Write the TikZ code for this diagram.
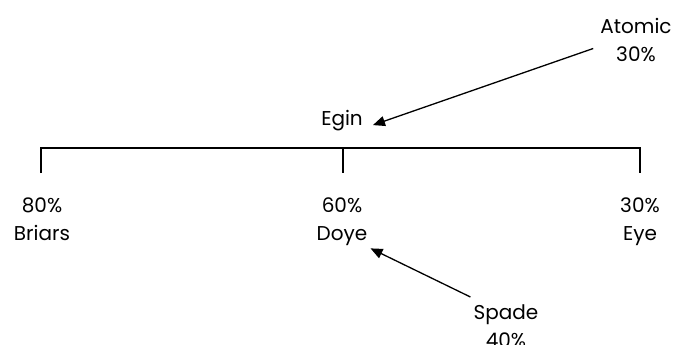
\documentclass[tikz,border=0pt]{standalone}
\usepackage{fontspec}
\setmainfont{Poppins}
\usetikzlibrary{arrows.meta}
\begin{document}
\begin{tikzpicture}[x=1pt,y=-1pt,
  lbl/.style={align=center,inner sep=0pt,font=\fontsize{20}{28}\selectfont},
  arr/.style={line width=1.3pt,-{Triangle[length=12pt,width=10pt]}},
  bar/.style={line width=1.2pt}]
\useasboundingbox (0,0) rectangle (675,345);
\node[lbl,anchor=base] (atomic) at (636,62) {Atomic\\30\%};
\node[lbl,anchor=base] (egin) at (342,125) {Egin};
\node[lbl,anchor=base] (briars) at (42,240) {80\%\\Briars};
\node[lbl,anchor=base] (doye) at (342,240) {60\%\\Doye};
\node[lbl,anchor=base] (eye) at (640,240) {30\%\\Eye};
\node[lbl,anchor=base] (spade) at (506,347) {Spade\\40\%};
\coordinate (barl) at (41,148);
\coordinate (barr) at (640,148);
\coordinate (barm) at (343,148);
\draw[bar] ([yshift=-25pt]barl) -- (barl) -- (barr) -- ([yshift=-25pt]barr);
\draw[bar] (barm) -- ([yshift=-25pt]barm);
\draw[arr] ([shift={(-7,8)}]atomic.west) -- ([shift={(10,5)}]egin.east);
\draw[arr] ([shift={(-3,-7)}]spade.north west) -- ([shift={(3,3)}]doye.south east);
\end{tikzpicture}
\end{document}
